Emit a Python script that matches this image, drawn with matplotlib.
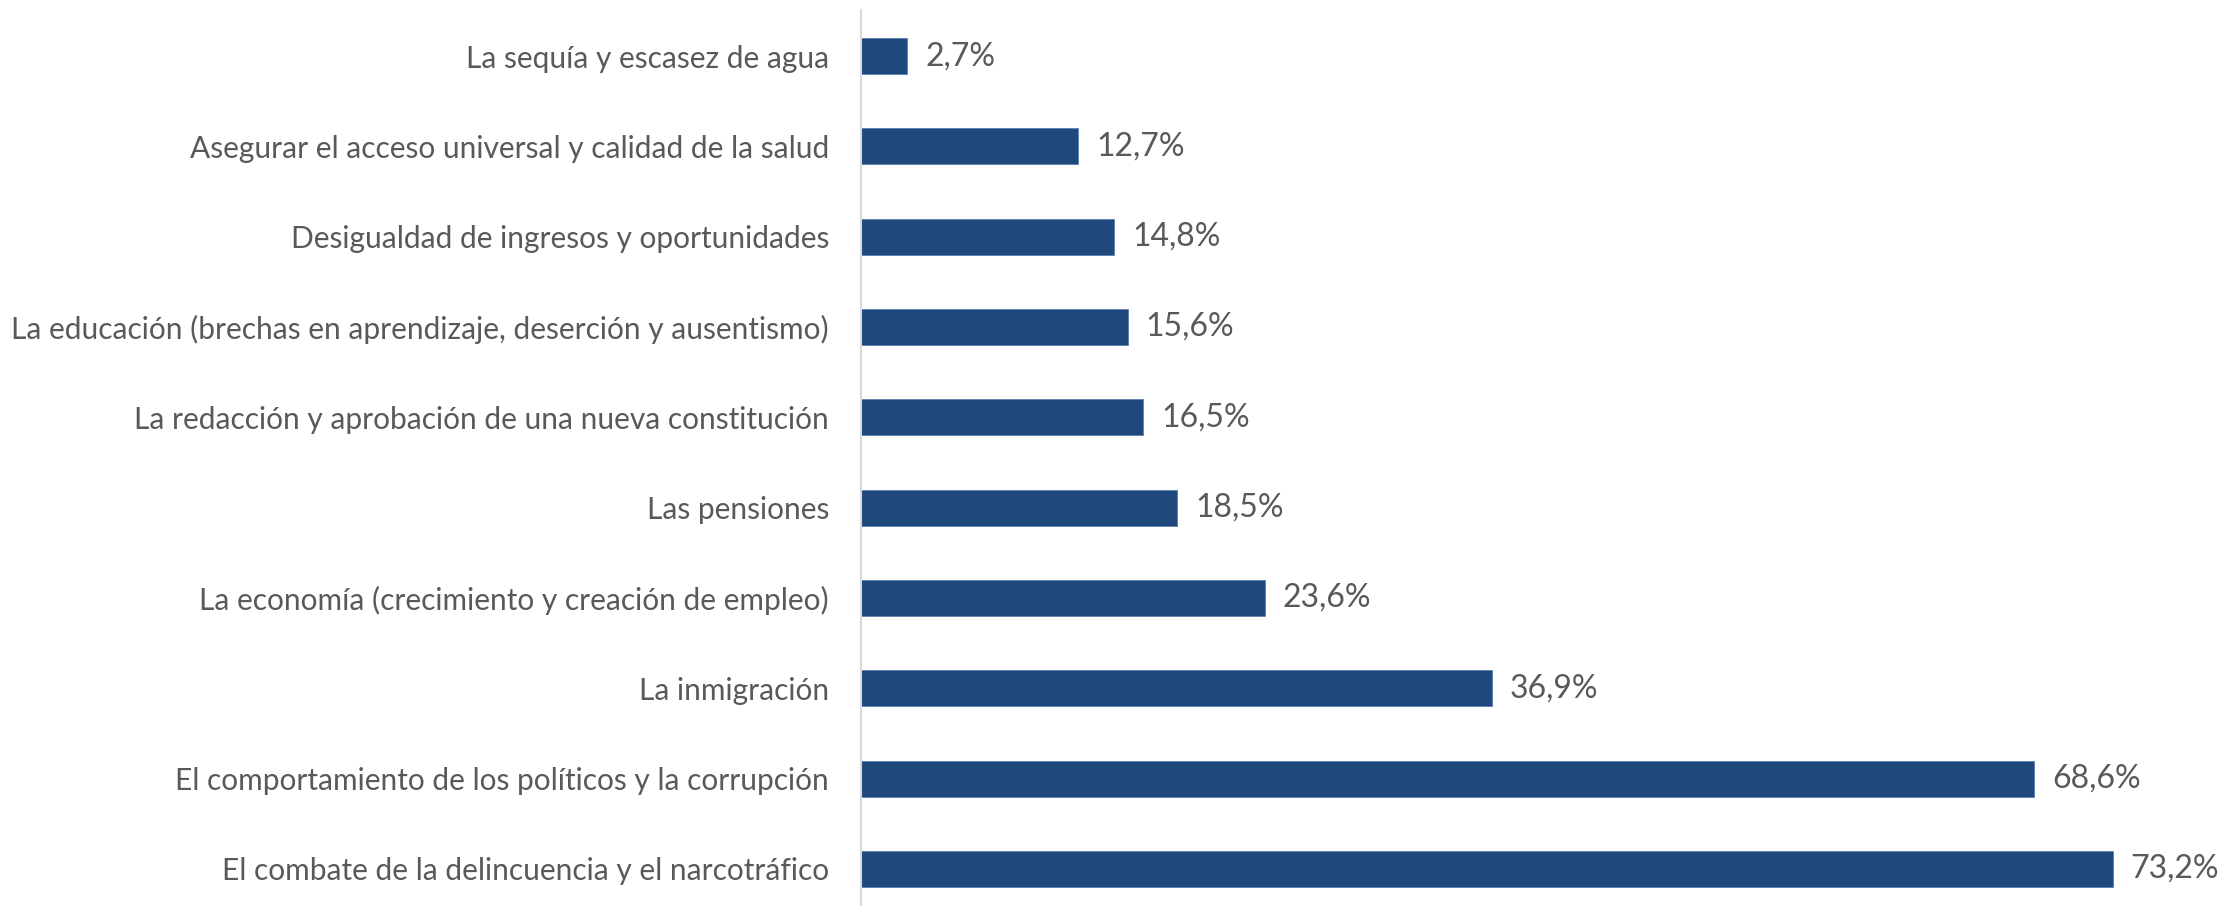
import matplotlib
matplotlib.use("Agg")
import matplotlib.pyplot as plt

# datos (de abajo hacia arriba)
categorias = [
    "El combate de la delincuencia y el narcotráfico",
    "El comportamiento de los políticos y la corrupción",
    "La inmigración",
    "La economía (crecimiento y creación de empleo)",
    "Las pensiones",
    "La redacción y aprobación de una nueva constitución",
    "La educación (brechas en aprendizaje, deserción y ausentismo)",
    "Desigualdad de ingresos y oportunidades",
    "Asegurar el acceso universal y calidad de la salud",
    "La sequía y escasez de agua",
]
valores = [73.2, 68.6, 36.9, 23.6, 18.5, 16.5, 15.6, 14.8, 12.7, 2.7]
etiquetas = [f"{v:.1f}%".replace(".", ",") for v in valores]

plt.rcParams['font.family'] = ['Lato', 'DejaVu Sans']
texto = "#595959"
azul = "#1F497D"

fig = plt.figure(figsize=(22.29, 9.06), dpi=100)
ax = fig.add_axes([0.3863, 0.0, 0.6137, 0.989])

y = list(range(len(valores)))
ax.barh(y, valores, height=0.4, color=azul, edgecolor="#5B7FAF", linewidth=0.6)

for yi, v, lab in zip(y, valores, etiquetas):
    ax.annotate(lab, (v, yi), xytext=(18, 0), textcoords="offset pixels",
                va="center", ha="left", fontsize=23, color=texto)

ax.set_xlim(0, 80)
ax.set_ylim(-0.41, 9.51)
ax.set_yticks(y)
ax.set_yticklabels(categorias, fontsize=21.5, color=texto)
ax.tick_params(axis="y", length=0, pad=23)
ax.set_xticks([])

for s in ["top", "right", "bottom"]:
    ax.spines[s].set_visible(False)
ax.spines["left"].set_color("#D9D9D9")
ax.spines["left"].set_linewidth(1.5)

fig.savefig("out.png", dpi=100)
